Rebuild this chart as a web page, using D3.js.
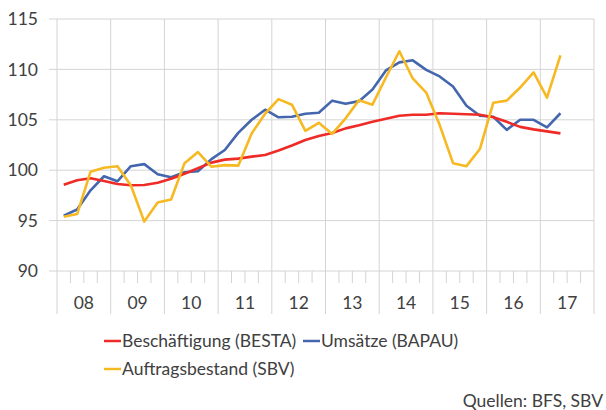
<!DOCTYPE html>
<html><head><meta charset="utf-8">
<script src="https://cdn.jsdelivr.net/npm/d3@7"></script>
<style>body{margin:0;background:#fff}svg{display:block}text{font-family:Lato,"Open Sans",sans-serif;fill:#404040}</style>
</head><body><svg id="c" width="606" height="410"></svg>
<script>
const years = ["08","09","10","11","12","13","14","15","16","17"];
const besta = [98.56,99.0,99.2,98.93,98.63,98.5,98.53,98.76,99.16,99.65,100.2,100.75,101.05,101.15,101.35,101.5,101.95,102.45,103.0,103.4,103.7,104.15,104.45,104.8,105.1,105.4,105.5,105.5,105.65,105.6,105.55,105.5,105.25,104.8,104.3,104.05,103.85,103.65];
const bapau = [95.49,96.1,98.0,99.4,98.9,100.4,100.6,99.6,99.3,99.8,99.9,101.1,102.0,103.7,105.0,106.0,105.25,105.3,105.6,105.7,106.9,106.6,106.85,108.0,109.9,110.7,110.9,109.95,109.3,108.3,106.4,105.4,105.3,104.0,105.0,105.0,104.25,105.65];
const sbv = [95.39,95.65,99.85,100.25,100.4,98.5,94.9,96.8,97.1,100.7,101.8,100.35,100.5,100.45,103.65,105.6,107.05,106.5,103.9,104.7,103.6,105.15,106.95,106.5,109.2,111.8,109.1,107.7,104.5,100.7,100.4,102.1,106.7,106.9,108.2,109.7,107.2,111.4];
const yTicks = [90,95,100,105,110,115];
const seriesNames = ["Beschäftigung (BESTA)","Umsätze (BAPAU)","Auftragsbestand (SBV)"];
const colors = ["#ee2b27","#4466ae","#f6b922"];

const svg = d3.select("#c");
const L=57, R=594, T=19, B=271;
const x = d3.scaleLinear().domain([0,40]).range([L,R]);
const y = d3.scaleLinear().domain([90,115]).range([B,T]);
const grid = "#d4d4d4";
const FS = 17.5;

// horizontal grid
svg.append("g").selectAll("line").data(yTicks).join("line")
  .attr("x1",L-8).attr("x2",R).attr("y1",d=>y(d)).attr("y2",d=>y(d))
  .attr("stroke",grid).attr("stroke-width",1);
// vertical year grid
svg.append("g").selectAll("line").data(d3.range(0,11)).join("line")
  .attr("x1",d=>x(d*4)).attr("x2",d=>x(d*4)).attr("y1",T).attr("y2",B+43)
  .attr("stroke",grid).attr("stroke-width",1);
// quarter ticks
svg.append("g").selectAll("line").data(d3.range(0,41).filter(d=>d%4)).join("line")
  .attr("x1",d=>x(d)).attr("x2",d=>x(d)).attr("y1",B).attr("y2",B+12)
  .attr("stroke",grid).attr("stroke-width",1);

// y labels
const yAxis = d3.axisLeft(y).tickValues(yTicks).tickSize(0).tickPadding(19);
const ya = svg.append("g").attr("transform",`translate(${L},0)`).call(yAxis);
ya.select(".domain").remove();
ya.selectAll("text").attr("font-size",FS).attr("fill","#404040").style("font-family","Lato");

// year labels
svg.append("g").selectAll("text").data(years).join("text")
  .attr("x",(d,i)=>x(i*4+2)).attr("y",309).attr("text-anchor","middle")
  .attr("font-size",FS).text(d=>d);

const line = d3.line().x((d,i)=>x(i+0.5)).y(d=>y(d));
[[bapau,1],[besta,0],[sbv,2]].forEach(([s,ci])=>{
  svg.append("path").datum(s).attr("d",line).attr("fill","none")
    .attr("stroke",colors[ci]).attr("stroke-width",2.6).attr("stroke-linejoin","round");
});

// legend
const leg = [{x:104,y:347,i:0},{x:303,y:347,i:1},{x:104,y:375,i:2}];
leg.forEach(l=>{
  svg.append("line").attr("x1",l.x).attr("x2",l.x+17).attr("y1",l.y-6).attr("y2",l.y-6)
    .attr("stroke",colors[l.i]).attr("stroke-width",2.5);
  svg.append("text").attr("x",l.x+18).attr("y",l.y).attr("font-size",FS).text(seriesNames[l.i]);
});
svg.append("text").attr("x",603).attr("y",407).attr("text-anchor","end").attr("font-size",FS).text("Quellen: BFS, SBV");
</script></body></html>
